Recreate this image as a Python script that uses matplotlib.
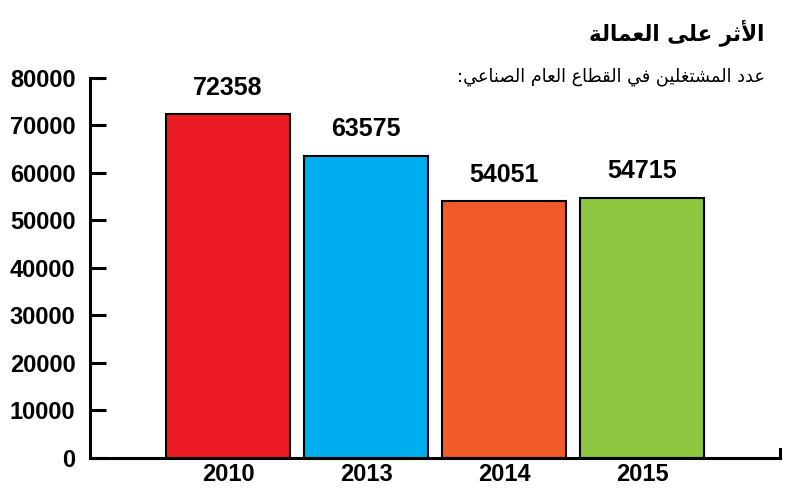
import matplotlib
matplotlib.use("Agg")
import matplotlib.pyplot as plt

years = ["2010", "2013", "2014", "2015"]
values = [72358, 63575, 54051, 54715]
colors = ["#ED1C24", "#00AEEF", "#F15A29", "#8DC63F"]
yticks = [0, 10000, 20000, 30000, 40000, 50000, 60000, 70000, 80000]
title_text = "الأثر على العمالة"
subtitle_text = "عدد المشتغلين في القطاع العام الصناعي:"

# minimal Arabic shaping: (isolated, final, initial, medial)
FORMS = {
    '\u0627': ('\uFE8D', '\uFE8E', None, None),
    '\u0623': ('\uFE83', '\uFE84', None, None),
    '\u062A': ('\uFE95', '\uFE96', '\uFE97', '\uFE98'),
    '\u062B': ('\uFE99', '\uFE9A', '\uFE9B', '\uFE9C'),
    '\u062F': ('\uFEA9', '\uFEAA', None, None),
    '\u0631': ('\uFEAD', '\uFEAE', None, None),
    '\u0634': ('\uFEB5', '\uFEB6', '\uFEB7', '\uFEB8'),
    '\u0635': ('\uFEB9', '\uFEBA', '\uFEBB', '\uFEBC'),
    '\u0637': ('\uFEC1', '\uFEC2', '\uFEC3', '\uFEC4'),
    '\u0639': ('\uFEC9', '\uFECA', '\uFECB', '\uFECC'),
    '\u063A': ('\uFECD', '\uFECE', '\uFECF', '\uFED0'),
    '\u0641': ('\uFED1', '\uFED2', '\uFED3', '\uFED4'),
    '\u0642': ('\uFED5', '\uFED6', '\uFED7', '\uFED8'),
    '\u0644': ('\uFEDD', '\uFEDE', '\uFEDF', '\uFEE0'),
    '\u0645': ('\uFEE1', '\uFEE2', '\uFEE3', '\uFEE4'),
    '\u0646': ('\uFEE5', '\uFEE6', '\uFEE7', '\uFEE8'),
    '\u0629': ('\uFE93', '\uFE94', None, None),
    '\u0649': ('\uFEEF', '\uFEF0', '\uFBE8', '\uFBE9'),
    '\u064A': ('\uFEF1', '\uFEF2', '\uFEF3', '\uFEF4'),
    'LA\u0627': ('\uFEFB', '\uFEFC', None, None),
    'LA\u0623': ('\uFEF7', '\uFEF8', None, None),
}


def shape(text):
    toks = []
    i = 0
    while i < len(text):
        c = text[i]
        if c == '\u0644' and i + 1 < len(text) and text[i + 1] in ('\u0627', '\u0623'):
            toks.append('LA' + text[i + 1])
            i += 2
        else:
            toks.append(c)
            i += 1
    out = []
    for k, t in enumerate(toks):
        if t not in FORMS:
            out.append(t)
            continue
        f = FORMS[t]
        prev = toks[k - 1] if k > 0 else None
        nxt = toks[k + 1] if k + 1 < len(toks) else None
        jp = prev in FORMS and FORMS[prev][2] is not None
        jn = nxt in FORMS and f[2] is not None
        if jp and jn:
            out.append(f[3])
        elif jp:
            out.append(f[1])
        elif jn:
            out.append(f[2])
        else:
            out.append(f[0])
    return ''.join(out)[::-1]


plt.rcParams['font.family'] = ['Liberation Sans', 'DejaVu Sans']

fig = plt.figure(figsize=(8.0, 4.98), dpi=100)
ax = fig.add_axes([0.1125, 0.0813, 0.8625, 0.7621])

x = list(range(len(years)))
bars = ax.bar(x, values, width=0.9, color=colors, edgecolor="black", linewidth=1.5, zorder=2)
for xi, v in zip(x, values):
    ax.annotate(f"{v}", (xi, v), xytext=(0, 10.5), textcoords="offset points",
                ha="center", va="bottom", fontsize=18, fontweight="bold")

ax.set_xlim(-1, 4)
ax.set_ylim(0, 80000)
ax.set_yticks(yticks)
ax.set_yticklabels([str(t) for t in yticks], fontsize=17, fontweight="bold")
ax.set_xticks(x)
ax.set_xticklabels(years, fontsize=17, fontweight="bold")
ax.tick_params(axis="y", direction="in", length=11.5, width=2.2, pad=10.5)
ax.tick_params(axis="x", length=0, pad=4)

ax.spines["top"].set_visible(False)
for s in ["left", "bottom", "right"]:
    ax.spines[s].set_linewidth(2.2)
ax.spines["right"].set_bounds(0, 1700)

fig.text(0.956, 0.935, shape(title_text), ha="right", va="center",
         fontsize=15.5, fontweight="bold", family=["DejaVu Sans"])
fig.text(0.956, 0.846, shape(subtitle_text), ha="right", va="center",
         fontsize=12.8, family=["DejaVu Sans"])

fig.savefig("out.png", dpi=100)
